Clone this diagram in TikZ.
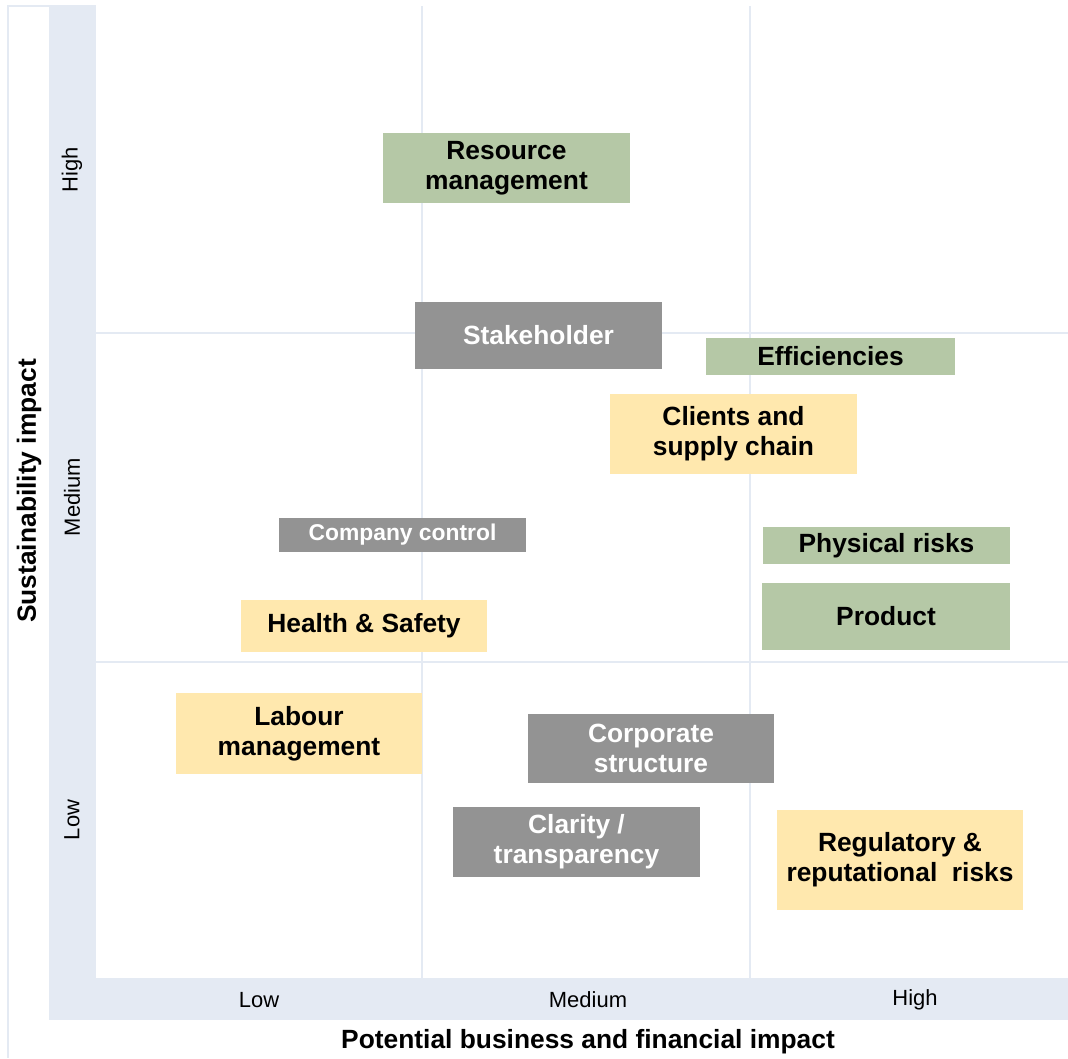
\documentclass[tikz,border=0pt]{standalone}
\usepackage{fontspec}
\setmainfont{Liberation Sans}
\usepackage{tikz}

\definecolor{bandblue}{HTML}{E4EAF3}
\definecolor{boxgreen}{HTML}{B5C8A6}
\definecolor{boxgrey}{HTML}{939393}
\definecolor{boxyellow}{HTML}{FFE8AE}

\begin{document}
\begin{tikzpicture}[
    x=0.02cm, y=-0.02cm,
    topic/.style={minimum width=4.94cm, align=center, inner sep=0pt,
        font=\fontsize{15}{17}\selectfont\bfseries},
    green/.style={topic, fill=boxgreen, text=black},
    grey/.style={topic, fill=boxgrey, text=white},
    yellow/.style={topic, fill=boxyellow, text=black},
    level/.style={font=\fontsize{12.5}{15}\selectfont},
    axis/.style={font=\fontsize{15}{17}\selectfont\bfseries}
]
\useasboundingbox (0,0) rectangle (1068,1058);

% axis bands and frame
\fill[bandblue] (49,6) rectangle (96,1020);
\fill[bandblue] (49,978) rectangle (1068,1020);
\draw[bandblue, line width=1pt] (8,1058) -- (8,6) -- (96,6);

% grid
\draw[bandblue, line width=1.2pt] (422,6) -- (422,1020);
\draw[bandblue, line width=1.2pt] (750,6) -- (750,1020);
\draw[bandblue, line width=1.2pt] (96,333) -- (1068,333);
\draw[bandblue, line width=1.2pt] (96,662) -- (1068,662);

% level labels
\node[level, rotate=90] (yhigh) at (72,170) {High};
\node[level, rotate=90] (ymed) at (72,497) {Medium};
\node[level, rotate=90] (ylow) at (72,820) {Low};
\node[level] (xlow) at (259,1000) {Low};
\node[level] (xmed) at (588,1000) {Medium};
\node[level] (xhigh) at (915,1000) {High};

% axis titles
\node[axis, rotate=90] (ytitle) at (29,491) {Sustainability impact};
\node[axis] (xtitle) at (588,1042) {Potential business and financial impact};

% topics
\node[green, minimum height=1.4cm] (resource) at (506.5,168) {Resource\\management};
\node[grey, minimum height=1.34cm] (stake) at (538.5,335.5) {Stakeholder};
\node[green, minimum height=0.74cm, minimum width=4.98cm] (effic) at (830.5,356.5) {Efficiencies};
\node[yellow, minimum height=1.6cm] (clients) at (733.5,434) {Clients and\\supply chain};
\node[grey, minimum height=0.68cm, font=\fontsize{13}{15}\selectfont\bfseries] (control) at (402.5,535) {Company control};
\node[green, minimum height=0.74cm] (physical) at (886.5,545.5) {Physical risks};
\node[green, minimum height=1.34cm, minimum width=4.96cm] (product) at (886,616.5) {Product};
\node[yellow, minimum height=1.04cm, minimum width=4.92cm] (health) at (364,626) {Health \& Safety};
\node[yellow, minimum height=1.62cm, minimum width=4.92cm] (labour) at (299,733.5) {Labour\\management};
\node[grey, minimum height=1.38cm, minimum width=4.92cm] (corporate) at (651,748.5) {Corporate\\structure};
\node[grey, minimum height=1.4cm] (clarity) at (576.5,842) {Clarity /\\transparency};
\node[yellow, minimum height=2cm, minimum width=4.92cm] (regulatory) at (900,860) {Regulatory \&\\reputational\ \ risks};
\end{tikzpicture}
\end{document}
